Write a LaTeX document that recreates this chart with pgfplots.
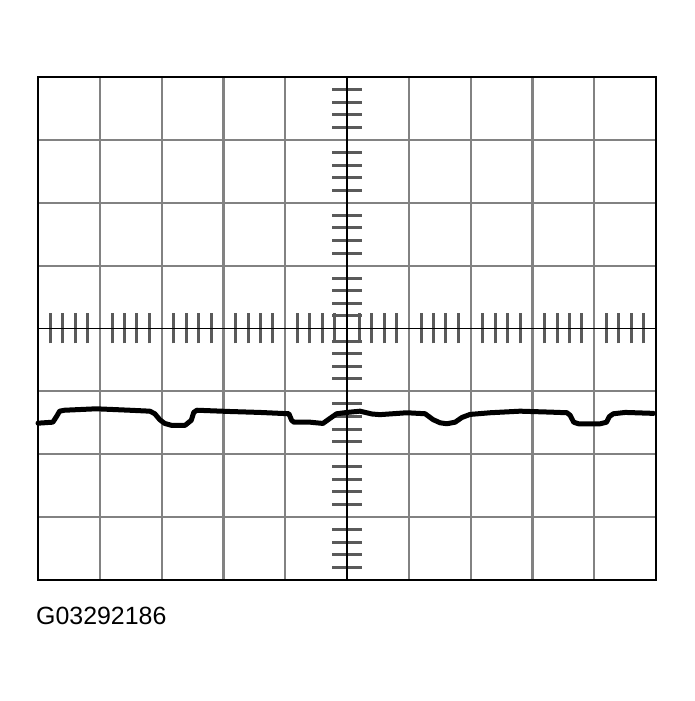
\documentclass[border=0pt]{standalone}
\usepackage{fontspec}
\setmainfont{Liberation Sans}
\usepackage{pgfplots}
\pgfplotsset{compat=1.18}
\definecolor{gridgray}{RGB}{130,130,130}
\definecolor{tickgray}{RGB}{90,90,90}
\begin{document}
\begin{tikzpicture}
\useasboundingbox (0,0) rectangle (695bp,701bp);
\begin{axis}[
  at={(38bp,121bp)}, anchor=south west,
  scale only axis, width=618bp, height=503bp,
  xmin=-5, xmax=5, ymin=-4, ymax=4,
  axis lines=middle,
  axis line style={black, line width=1.8bp, -},
  xtick={-5,...,5}, ytick={-4,...,4},
  xticklabels={}, yticklabels={},
  minor x tick num=4, minor y tick num=4,
  major tick length=0pt, minor tick length=30bp, tick align=center,
  minor tick style={line width=3bp, color=tickgray},
  major tick style={draw=none},
  grid=major,
  major grid style={line width=2.2bp, gridgray},
  clip=false,
]
\addplot[black, line width=5bp, line join=round, line cap=round] coordinates {
(-5.00,-1.506) (-4.76,-1.49) (-4.70,-1.40) (-4.65,-1.315) (-4.57,-1.30)
(-4.057,-1.277) (-3.517,-1.30) (-3.19,-1.315) (-3.11,-1.356) (-3.03,-1.45)
(-2.95,-1.51) (-2.84,-1.54) (-2.62,-1.54) (-2.52,-1.46) (-2.48,-1.335)
(-2.43,-1.30) (-1.90,-1.32) (-1.41,-1.335) (-0.94,-1.356) (-0.896,-1.46)
(-0.86,-1.49) (-0.60,-1.49) (-0.39,-1.51) (-0.276,-1.43) (-0.167,-1.356)
(0,-1.335) (0.21,-1.315) (0.405,-1.36) (0.535,-1.37) (0.968,-1.34)
(1.264,-1.356) (1.394,-1.45) (1.507,-1.50) (1.616,-1.515) (1.75,-1.49)
(1.86,-1.415) (1.99,-1.367) (2.318,-1.34) (2.80,-1.315) (3.29,-1.33)
(3.56,-1.34) (3.61,-1.38) (3.668,-1.49) (3.744,-1.515) (4.10,-1.515)
(4.20,-1.49) (4.246,-1.40) (4.31,-1.356) (4.505,-1.335) (4.96,-1.35)
};
\draw[black, line width=2.4bp] (rel axis cs:0,0) rectangle (rel axis cs:1,1);
\end{axis}
\node[anchor=base west, inner sep=0pt, font=\fontsize{25}{30}\selectfont] at (36bp,76bp) {G03292186};
\end{tikzpicture}
\end{document}
